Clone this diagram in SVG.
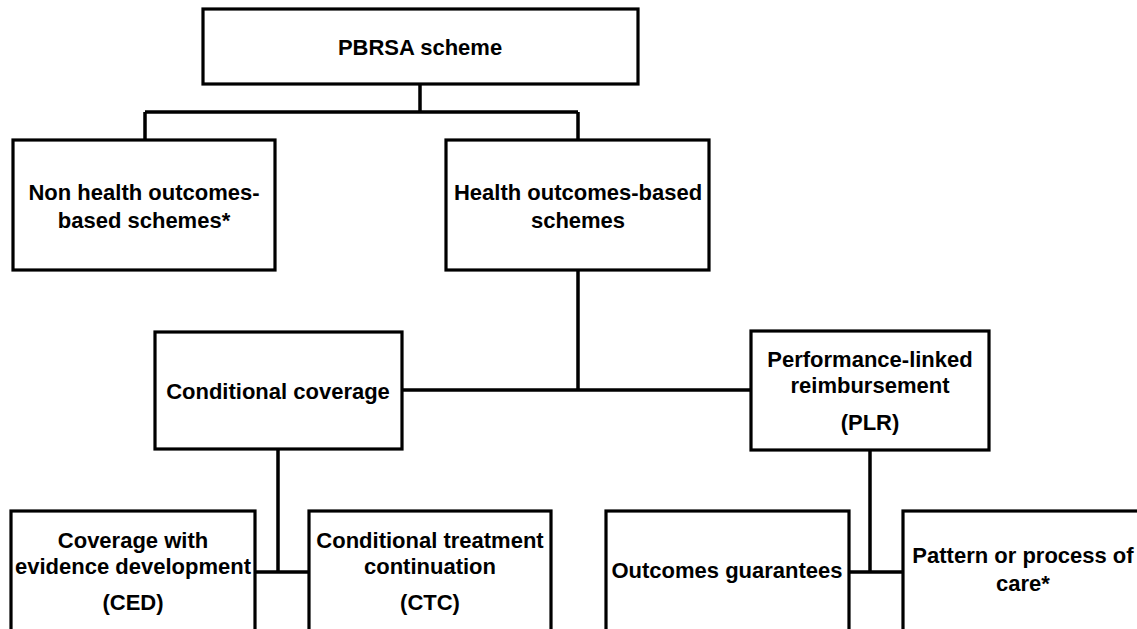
<svg xmlns="http://www.w3.org/2000/svg" width="1137" height="629" viewBox="0 0 1137 629">
<style>
.box{fill:#ffffff;stroke:#000000;stroke-width:3.2}
.lbl{font-family:"Liberation Sans",Arial,sans-serif;font-weight:bold;font-size:22px;fill:#000000;text-anchor:middle}
.con{stroke:#000000;stroke-width:3.5;fill:none}
</style>
<rect x="0" y="0" width="1137" height="629" fill="#ffffff"/>
<g id="connectors">
<path class="con" d="M420,84 V112 M145,112 H578 M145,112 V140 M578,112 V140"/>
<path class="con" d="M578,270 V390 M402,390 H751"/>
<path class="con" d="M278,449 V572 M255,572 H309"/>
<path class="con" d="M870,450 V572 M849,572 H903"/>
</g>
<g id="pbrsa">
<rect class="box" x="203" y="9" width="435" height="75"/>
<text class="lbl" x="420" y="55">PBRSA scheme</text>
</g>
<g id="nonhealth">
<rect class="box" x="13" y="140" width="262" height="130"/>
<text class="lbl" x="144" y="200">Non health outcomes-</text>
<text class="lbl" x="144" y="228">based schemes*</text>
</g>
<g id="health">
<rect class="box" x="446" y="140" width="263" height="130"/>
<text class="lbl" x="578" y="200">Health outcomes-based</text>
<text class="lbl" x="578" y="228">schemes</text>
</g>
<g id="conditional">
<rect class="box" x="155" y="332" width="247" height="117"/>
<text class="lbl" x="278" y="399">Conditional coverage</text>
</g>
<g id="plr">
<rect class="box" x="751" y="331" width="238" height="119"/>
<text class="lbl" x="870" y="367">Performance-linked</text>
<text class="lbl" x="870" y="393">reimbursement</text>
<text class="lbl" x="870" y="430">(PLR)</text>
</g>
<g id="ced">
<rect class="box" x="11" y="511" width="244" height="140"/>
<text class="lbl" x="133" y="548">Coverage with</text>
<text class="lbl" x="133" y="574">evidence development</text>
<text class="lbl" x="133" y="610">(CED)</text>
</g>
<g id="ctc">
<rect class="box" x="309" y="511" width="242" height="140"/>
<text class="lbl" x="430" y="548">Conditional treatment</text>
<text class="lbl" x="430" y="574">continuation</text>
<text class="lbl" x="430" y="610">(CTC)</text>
</g>
<g id="outcomes">
<rect class="box" x="606" y="511" width="243" height="140"/>
<text class="lbl" x="727" y="578">Outcomes guarantees</text>
</g>
<g id="pattern">
<rect class="box" x="903" y="511" width="260" height="140"/>
<text class="lbl" x="1023" y="563">Pattern or process of</text>
<text class="lbl" x="1023" y="591">care*</text>
</g>
</svg>
